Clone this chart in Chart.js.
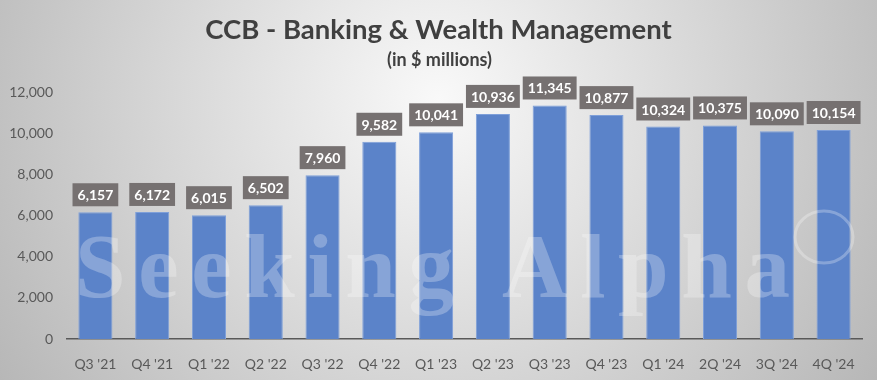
<!DOCTYPE html>
<html>
<head>
<meta charset="utf-8">
<script src="https://cdn.jsdelivr.net/npm/chart.js@4/dist/chart.umd.min.js"></script>
<style>
  html, body { margin: 0; padding: 0; background: #ffffff; }
  #wrap { width: 877px; height: 380px; position: relative; }
</style>
</head>
<body>
<div id="wrap"><canvas id="c" width="877" height="380"></canvas></div>
<script>
const categories = ["Q3 '21", "Q4 '21", "Q1 '22", "Q2 '22", "Q3 '22", "Q4 '22", "Q1 '23", "Q2 '23", "Q3 '23", "Q4 '23", "Q1 '24", "2Q '24", "3Q '24", "4Q '24"];
const revenue = [6157, 6172, 6015, 6502, 7960, 9582, 10041, 10936, 11345, 10877, 10324, 10375, 10090, 10154];
const yTicks = [0, 2000, 4000, 6000, 8000, 10000, 12000];
const titleText = "CCB - Banking & Wealth Management";
const subtitleText = "(in $ millions)";
const watermarkText = "Seeking Alpha";

const fmt = v => v.toLocaleString('en-US');

const backgroundPlugin = {
  id: 'bg',
  beforeDraw(chart) {
    const ctx = chart.ctx;
    const w = chart.width, h = chart.height;
    ctx.save();
    const g = ctx.createRadialGradient(w / 2, 100, 0, w / 2, 100, 600);
    g.addColorStop(0, '#f9f9f9');
    g.addColorStop(1, '#adadad');
    ctx.fillStyle = g;
    ctx.fillRect(0, 0, w, h);
    ctx.fillStyle = '#404040';
    ctx.textAlign = 'center';
    ctx.textBaseline = 'alphabetic';
    ctx.font = 'bold 27.5px Lato';
    ctx.fillText(titleText, w / 2, 39);
    ctx.font = 'bold 18px Lato';
    ctx.fillText(subtitleText, w / 2 + 1, 66);
    ctx.restore();
  }
};

const labelPlugin = {
  id: 'labels',
  afterDatasetsDraw(chart) {
    const ctx = chart.ctx;
    ctx.save();
    // watermark
    ctx.fillStyle = 'rgba(255,255,255,0.27)';
    ctx.font = 'bold 91px "Liberation Serif"';
    ctx.textAlign = 'left';
    ctx.textBaseline = 'alphabetic';
    const targetW = 715;
    const chars = [...watermarkText];
    let total = 0;
    const widths = chars.map(c => { const m = ctx.measureText(c).width; total += m; return m; });
    const spacing = (targetW - total) / (chars.length - 1);
    let x = 75;
    chars.forEach((c, i) => { ctx.fillText(c, x, 297); x += widths[i] + spacing; });
    ctx.strokeStyle = 'rgba(255,255,255,0.27)';
    ctx.lineWidth = 3;
    ctx.beginPath();
    ctx.ellipse(824, 237, 29, 26, 0, 0, Math.PI * 2);
    ctx.stroke();

    // data labels
    const meta = chart.getDatasetMeta(0);
    ctx.font = 'bold 14px Lato';
    ctx.textAlign = 'center';
    ctx.textBaseline = 'middle';
    meta.data.forEach((bar, i) => {
      const txt = fmt(chart.data.datasets[0].data[i]);
      const tw = ctx.measureText(txt).width;
      const bw = tw + 10, bh = 23;
      const bx = bar.x - bw / 2;
      const by = bar.y - 6 - bh;
      ctx.fillStyle = '#767171';
      ctx.fillRect(bx, by, bw, bh);
      ctx.fillStyle = '#ffffff';
      ctx.fillText(txt, bar.x, by + bh / 2 + 1);
    });
    ctx.restore();
  }
};

new Chart(document.getElementById('c'), {
  type: 'bar',
  data: {
    labels: categories,
    datasets: [{
      data: revenue,
      backgroundColor: '#5b83c9',
      borderColor: '#7e9fd9',
      borderWidth: 1,
      barPercentage: 0.6,
      categoryPercentage: 1.0
    }]
  },
  options: {
    responsive: false,
    animation: false,
    devicePixelRatio: 1,
    layout: { padding: { top: 92, right: 15, bottom: 0, left: 0 } },
    plugins: {
      legend: { display: false },
      title: { display: false },
      tooltip: { enabled: false }
    },
    scales: {
      x: {
        grid: { display: false },
        border: { display: true, color: '#595959', width: 1.5 },
        ticks: { color: '#595959', font: { family: 'Lato', size: 14 }, padding: 9, maxRotation: 0, autoSkip: false },
        afterFit(s) { s.height = 41; }
      },
      y: {
        min: 0, max: 12000,
        afterBuildTicks(s) { s.ticks = yTicks.map(v => ({ value: v })); },
        grid: { display: false, drawTicks: false },
        border: { display: false },
        ticks: { color: '#595959', font: { family: 'Lato', size: 14 }, padding: 14, callback: v => fmt(v) },
        afterFit(s) { s.width = 67; }
      }
    }
  },
  plugins: [backgroundPlugin, labelPlugin]
});
</script>
</body>
</html>
